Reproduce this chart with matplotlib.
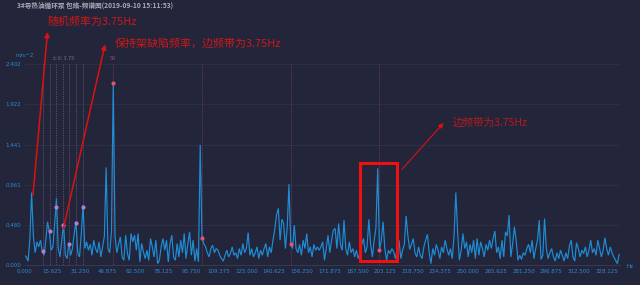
import numpy as np
import matplotlib
matplotlib.use('Agg')
import matplotlib.pyplot as plt
from matplotlib.patches import Rectangle

# ---------------- data ----------------
freq_step = 1.0  # Hz
amplitude = [
    0.12, 0.10, 0.05, 0.30, 0.87, 0.35, 0.15, 0.28, 0.22, 0.30,
    0.17, 0.12, 0.30, 0.52, 0.40, 0.18, 0.22, 0.50, 0.80, 0.20,
    0.10, 0.30, 0.50, 0.12, 0.08, 0.27, 0.12, 0.20, 0.38, 0.52,
    0.15, 0.10, 0.38, 0.72, 0.20, 0.28, 0.18, 0.25, 0.12, 0.30,
    0.20, 0.15, 0.28, 0.10, 0.22, 0.35, 1.17, 0.20, 0.15, 0.40,
    2.18, 0.35, 0.15, 0.25, 0.34, 0.10, 0.06, 0.36, 0.14, 0.06,
    0.38, 0.28, 0.36, 0.18, 0.38, 0.04, 0.26, 0.16, 0.08, 0.18,
    0.06, 0.32, 0.22, 0.10, 0.30, 0.02, 0.06, 0.22, 0.32, 0.18,
    0.30, 0.04, 0.26, 0.36, 0.10, 0.06, 0.26, 0.10, 0.30, 0.15,
    0.38, 0.08, 0.25, 0.40, 0.12, 0.30, 0.05, 0.20, 0.04, 1.44,
    0.33, 0.26, 0.22, 0.15, 0.10, 0.20, 0.24, 0.15, 0.20, 0.18,
    0.12, 0.08, 0.05, 0.12, 0.18, 0.10, 0.14, 0.22, 0.12, 0.15,
    0.08, 0.20, 0.12, 0.26, 0.15, 0.20, 0.39, 0.12, 0.20, 0.10,
    0.15, 0.22, 0.08, 0.18, 0.12, 0.20, 0.26, 0.10, 0.22, 0.15,
    0.30, 0.43, 0.60, 0.68, 0.30, 0.55, 0.50, 0.20, 0.45, 0.97,
    0.26, 0.20, 0.48, 0.20, 0.15, 0.25, 0.12, 0.30, 0.20, 0.38,
    0.15, 0.22, 0.10, 0.25, 0.18, 0.22, 0.18, 0.22, 0.28, 0.06,
    0.20, 0.36, 0.15, 0.30, 0.42, 0.44, 0.20, 0.50, 0.25, 0.18,
    0.54, 0.20, 0.12, 0.28, 0.15, 0.20, 0.10, 0.18, 0.08, 0.15,
    0.25, 0.32, 0.15, 0.22, 0.55, 0.25, 0.10, 0.30, 0.45, 1.16,
    0.18, 0.30, 0.52, 0.20, 0.06, 0.18, 0.14, 0.20, 0.16, 0.08,
    0.20, 0.30, 0.08, 0.18, 0.25, 0.59, 0.35, 0.19, 0.25, 0.32,
    0.15, 0.10, 0.22, 0.12, 0.08, 0.22, 0.30, 0.37, 0.15, 0.02,
    0.20, 0.12, 0.25, 0.18, 0.08, 0.22, 0.15, 0.30, 0.20, 0.12,
    0.20, 0.08, 0.35, 0.87, 0.40, 0.06, 0.18, 0.38, 0.20, 0.28,
    0.10, 0.25, 0.15, 0.30, 0.08, 0.32, 0.12, 0.28, 0.20, 0.10,
    0.25, 0.18, 0.30, 0.20, 0.32, 0.41, 0.15, 0.22, 0.08, 0.30,
    0.10, 0.40, 0.35, 0.60, 0.10, 0.25, 0.46, 0.30, 0.06, 0.12,
    0.07, 0.15, 0.12, 0.20, 0.25, 0.15, 0.30, 0.08, 0.20, 0.30,
    0.54, 0.07, 0.12, 0.56, 0.20, 0.08, 0.15, 0.20, 0.10, 0.05,
    0.15, 0.08, 0.18, 0.12, 0.05, 0.15, 0.08, 0.23, 0.30, 0.10,
    0.05, 0.27, 0.20, 0.10, 0.18, 0.14, 0.22, 0.10, 0.18, 0.30,
    0.15, 0.20, 0.12, 0.30, 0.20, 0.10, 0.18, 0.33, 0.20, 0.12,
    0.22, 0.15, 0.10, 0.06, 0.02, 0.13,
]
freqs = np.arange(len(amplitude)) * freq_step

sideband_center = 21.6
sideband_spacing = 3.75
sideband_orders = [-3, -2, -1, 0, 1, 2, 3]
sideband_values = [0.17, 0.41, 0.70, 0.48, 0.26, 0.51, 0.70]

harmonic_freqs = [50, 100, 150, 200]
harmonic_values = [2.18, 0.33, 0.26, 0.18]

y_ticks = [0.000, 0.480, 0.961, 1.441, 1.922, 2.402]
x_tick_step = 15.625
x_tick_count = 22
x_max = 335.5

title = '3#导热油循环泵 包络-频谱图(2019-09-10 15:11:53)'
note_random = '随机频率为3.75Hz'
note_cage = '保持架缺陷频率，边频带为3.75Hz'
note_side = '边频带为3.75Hz'
sideband_label = '±X: 3.75'
harmonic_label = '50'
y_unit = 'm/s^2'
x_unit = 'Hz'

# box around the 200 Hz sideband group (data units)
box_f0, box_f1 = 189.0, 209.9
box_v0, box_v1 = 0.05, 1.22

# ---------------- style ----------------
BG = '#23253a'
GRID = '#2e3147'
LINE = '#1f8dd6'
AXIS_TXT = '#2a8ad4'
RED = '#e01010'
CJK = ['Noto Sans CJK SC', 'DejaVu Sans']

W, H = 640, 285
fig = plt.figure(figsize=(W / 100, H / 100), dpi=100, facecolor=BG)
ax = fig.add_axes([24.5 / W, 19.7 / H, 595.5 / W, 201 / H])
ax.set_facecolor(BG)

ax.plot(freqs, amplitude, color=LINE, lw=0.85, zorder=3, solid_joinstyle='miter')
ax.set_xlim(0, x_max)
ax.set_ylim(0, y_ticks[-1])

for s in ['top', 'right', 'left']:
    ax.spines[s].set_visible(False)
ax.spines['bottom'].set_color('#3a3d54')
ax.spines['bottom'].set_linewidth(0.6)

ax.set_yticks(y_ticks)
ax.set_yticklabels(['%.3f' % v for v in y_ticks])
xt = np.arange(x_tick_count) * x_tick_step
ax.set_xticks(xt)
ax.set_xticklabels(['%.3f' % v for v in xt])
ax.tick_params(length=0, colors=AXIS_TXT, labelsize=4.0)
ax.tick_params(axis='x', pad=3.0)
ax.tick_params(axis='y', pad=2.4)
ax.grid(axis='y', color=GRID, lw=0.6)
ax.set_axisbelow(True)

# sideband cursor lines
sb_freqs = [sideband_center + k * sideband_spacing for k in sideband_orders]
for f in sb_freqs:
    ax.axvline(f, color='#5b4c72', lw=0.65, ls=(0, (1.5, 1.2)), zorder=2)
ax.scatter(sb_freqs, sideband_values, s=9, color='#b07fcf', zorder=5, linewidths=0)

# harmonic cursor lines
for f in harmonic_freqs:
    ax.axvline(f, color='#6b3553', lw=0.65, ls=(0, (1.5, 1.2)), zorder=2)
ax.scatter(harmonic_freqs, harmonic_values, s=9, color='#e8506e', zorder=5, linewidths=0)

top = y_ticks[-1]
ax.text(sideband_center, top + 0.065, sideband_label, ha='center', va='center',
        fontsize=4.0, color='#7d6a8e', clip_on=False, family=CJK)
ax.text(harmonic_freqs[0], top + 0.065, harmonic_label, ha='center', va='center',
        fontsize=4.0, color='#9a4866', clip_on=False, family=CJK)
ax.text(0, top + 0.115, y_unit, ha='center', va='center', fontsize=4.0,
        color=AXIS_TXT, clip_on=False)
ax.text(x_max + 5.6, -0.01, x_unit, ha='center', va='center', fontsize=4.0,
        color=AXIS_TXT, clip_on=False)

ax.add_patch(Rectangle((box_f0, box_v0), box_f1 - box_f0, box_v1 - box_v0,
                       fill=False, edgecolor='#f01010', lw=2.2, zorder=6, clip_on=False))

# ---------------- overlay (pixel coordinates) ----------------
ov = fig.add_axes([0, 0, 1, 1])
ov.set_xlim(0, W)
ov.set_ylim(H, 0)
ov.axis('off')
ov.patch.set_alpha(0)

ov.text(17, 5.5, title, ha='left', va='center', fontsize=4.8, color='#a9aab4',
        fontweight='bold', family=CJK)

ov.text(47, 22, note_random, ha='left', va='center', fontsize=7.9, color='#d01818', family=CJK)
ov.text(115, 43.5, note_cage, ha='left', va='center', fontsize=7.9, color='#d01818', family=CJK)
ov.text(453, 122.7, note_side, ha='left', va='center', fontsize=7.6, color='#b81a1e', family=CJK)

arrows = [((33.0, 195.0), (47.5, 32.0), 1.1),
          ((63.3, 229.0), (105.0, 44.5), 1.1),
          ((402.0, 169.3), (443.5, 123.0), 0.8)]
for tail, head, lw in arrows:
    ov.annotate('', xy=head, xytext=tail, xycoords='data', textcoords='data',
                arrowprops=dict(arrowstyle='-|>', color=RED, lw=lw,
                                mutation_scale=7, shrinkA=0, shrinkB=0))

fig.savefig('out.png', dpi=100, facecolor=BG)
